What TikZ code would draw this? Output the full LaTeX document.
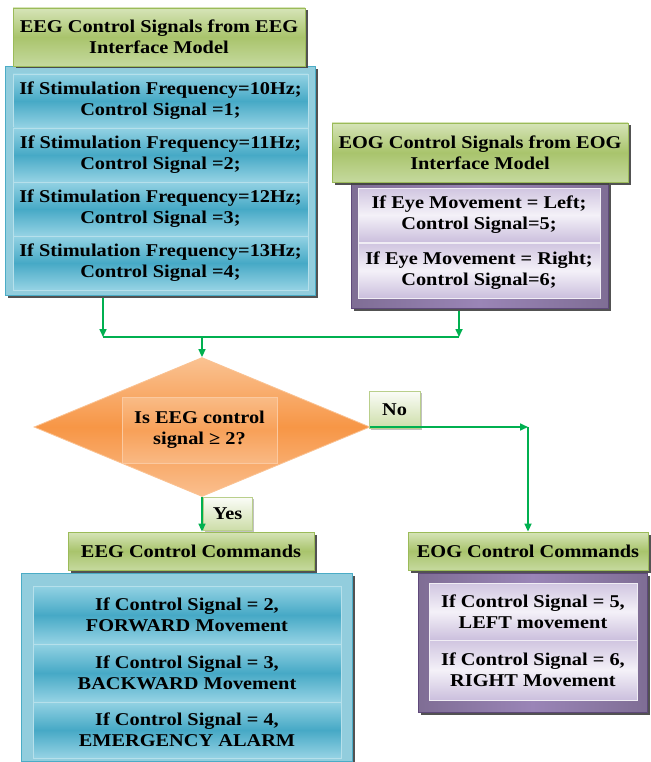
\documentclass[tikz,border=0pt]{standalone}
\usepackage{fontspec}
\setmainfont{Liberation Serif}[FakeStretch=1.13]
\usetikzlibrary{shapes.geometric,shadows,arrows.meta}
\definecolor{gTop}{HTML}{D6E4B8}
\definecolor{gMid}{HTML}{A9C46C}
\definecolor{gBot}{HTML}{C5D99E}
\definecolor{gBorder}{HTML}{9BBB59}
\definecolor{bOuter}{HTML}{92CDDD}
\definecolor{bBorder}{HTML}{4BACC6}
\definecolor{bTop}{HTML}{93D2E3}
\definecolor{bMid}{HTML}{46A9C6}
\definecolor{bBot}{HTML}{96D3E4}
\definecolor{bLine}{HTML}{B6E0EB}
\definecolor{pOuter}{HTML}{9A85B7}
\definecolor{pBorder}{HTML}{5F497A}
\definecolor{pTop}{HTML}{D0C5E0}
\definecolor{pMid}{HTML}{F4F1F8}
\definecolor{pBot}{HTML}{CBBFDD}
\definecolor{oTop}{HTML}{FAC292}
\definecolor{oMid}{HTML}{F79646}
\definecolor{oBot}{HTML}{FABF8F}
\definecolor{oLine}{HTML}{FBC9A0}
\definecolor{arrGreen}{HTML}{00B050}
\begin{document}
\begin{tikzpicture}[x=1pt,y=-1pt,
  txt/.style={font=\fontsize{18}{21}\selectfont\bfseries, align=center, text=black},
  shad/.style={drop shadow={shadow xshift=2.5pt,shadow yshift=-2.5pt,fill=black!75,opacity=0.9}},
  head/.style={txt, rectangle, inner sep=0pt, draw=gBorder, line width=0.8pt,
    top color=gTop, bottom color=gBot, middle color=gMid, shad},
  bluebox/.style={rectangle, inner sep=0pt, draw=bBorder, line width=1pt, fill=bOuter, shad},
  bluerow/.style={txt, rectangle, inner sep=0pt, draw=bLine, line width=0.8pt,
    top color=bTop, bottom color=bBot, middle color=bMid},
  purplebox/.style={rectangle, inner sep=0pt, draw=pBorder, line width=1pt,
    left color=pBorder!80, right color=pBorder!80, middle color=pOuter, shad},
  purplerow/.style={txt, rectangle, inner sep=0pt, draw=white!85!pOuter, line width=0.8pt,
    top color=pTop, bottom color=pBot, middle color=pMid},
  tag/.style={txt, rectangle, inner sep=0pt, draw=gBorder!70, line width=0.6pt,
    top color=white!90!gTop, bottom color=gTop!80!gMid,
    drop shadow={shadow xshift=1.5pt,shadow yshift=-1.5pt,fill=black!40,opacity=0.6}},
  line/.style={draw=arrGreen, line width=1.6pt},
  arr/.style={line, -{Triangle[length=8pt,width=7pt]}}
]
\useasboundingbox (0,0) rectangle (650,762);
\fill[white] (0,0) rectangle (650,762);

% EEG control signals
\node[bluebox, minimum width=310pt, minimum height=228pt] (eegbox) at (160,181) {};
\node[bluerow, minimum width=295pt, minimum height=54pt] (eegr1) at (160.5,101) {If Stimulation Frequency=10Hz;\\Control Signal =1;};
\node[bluerow, minimum width=295pt, minimum height=54pt] (eegr2) at (160.5,155) {If Stimulation Frequency=11Hz;\\Control Signal =2;};
\node[bluerow, minimum width=295pt, minimum height=54pt] (eegr3) at (160.5,209) {If Stimulation Frequency=12Hz;\\Control Signal =3;};
\node[bluerow, minimum width=295pt, minimum height=54pt] (eegr4) at (160.5,263) {If Stimulation Frequency=13Hz;\\Control Signal =4;};
\node[head, minimum width=292pt, minimum height=58pt] (eeghead) at (159,37) {EEG Control Signals from EEG\\Interface Model};

% EOG control signals
\node[purplebox, minimum width=257pt, minimum height=126pt] (eogbox) at (479.5,245) {};
\node[purplerow, minimum width=242pt, minimum height=54pt] (eogr1) at (479,215) {If Eye Movement = Left;\\Control Signal=5;};
\node[purplerow, minimum width=242pt, minimum height=55pt] (eogr2) at (479,270.5) {If Eye Movement = Right;\\Control Signal=6;};
\node[head, minimum width=296pt, minimum height=59pt] (eoghead) at (480,152.5) {EOG Control Signals from EOG\\Interface Model};

% junction
\coordinate (ja) at (103,337);
\coordinate (jb) at (459,337);
\coordinate (jc) at (202,337);
\draw[arr] (ja |- eegbox.south) ++(0,2) -- (ja);
\draw[arr] (jb |- eogbox.south) ++(0,2) -- (jb);
\draw[line] (ja) -- (jb);

% decision
\node[shape=diamond, inner sep=0pt, minimum width=336pt, minimum height=139pt,
  draw=oTop, line width=0.8pt, top color=oTop, bottom color=oBot, middle color=oMid] (dia) at (202,427) {};
\node[txt, rectangle, inner sep=0pt, minimum width=155pt, minimum height=66pt,
  draw=oLine, line width=0.8pt, top color=oTop!85!oMid, bottom color=oBot!85!oMid, middle color=oMid!90!white] (q) at (199.5,430) {Is EEG control\\signal ≥ 2?};
\draw[arr] (jc) -- (dia.north);

% EEG commands
\node[bluebox, minimum width=331pt, minimum height=188pt] (eegcmdbox) at (186.5,667) {};
\node[bluerow, minimum width=308pt, minimum height=58pt] (eegc1) at (187,615) {If Control Signal = 2,\\FORWARD Movement};
\node[bluerow, minimum width=308pt, minimum height=58pt] (eegc2) at (187,673) {If Control Signal = 3,\\BACKWARD Movement};
\node[bluerow, minimum width=308pt, minimum height=56pt] (eegc3) at (187,730) {If Control Signal = 4,\\EMERGENCY ALARM};
\node[head, minimum width=246pt, minimum height=38pt] (eegcmdhead) at (191,551) {EEG Control Commands};

% EOG commands
\node[purplebox, minimum width=229pt, minimum height=139pt] (eogcmdbox) at (532.5,642.5) {};
\node[purplerow, minimum width=208pt, minimum height=57pt] (eogc1) at (533,611.5) {If Control Signal = 5,\\LEFT movement};
\node[purplerow, minimum width=208pt, minimum height=60pt] (eogc2) at (533,670) {If Control Signal = 6,\\RIGHT Movement};
\node[head, minimum width=240pt, minimum height=38pt] (eogcmdhead) at (528,551) {EOG Control Commands};

% branches
\node[tag, minimum width=49pt, minimum height=33pt] (yes) at (227.5,513.5) {Yes};
\node[tag, minimum width=51pt, minimum height=37pt] (no) at (394.5,409.5) {No};
\draw[arr] (dia.south) -- (dia.south |- eegcmdhead.north);
\coordinate (nc) at (528,427);
\draw[arr] (dia.east) -- (nc);
\draw[arr] (nc) -- (eogcmdhead.north);
\end{tikzpicture}
\end{document}
